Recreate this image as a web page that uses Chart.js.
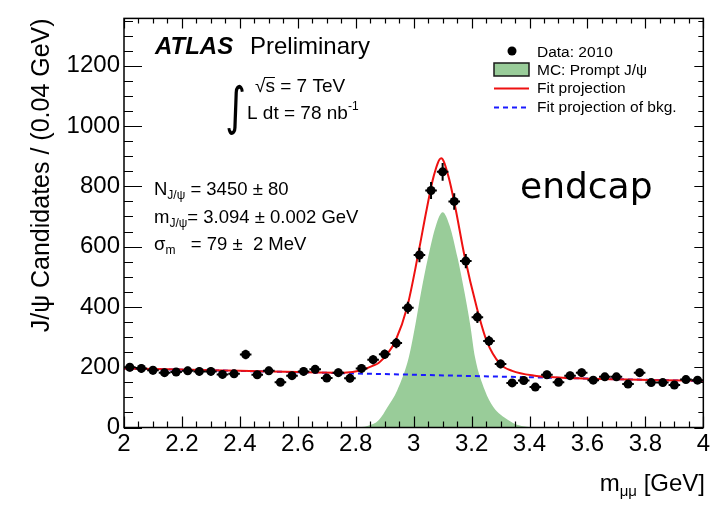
<!DOCTYPE html>
<html>
<head>
<meta charset="utf-8">
<title>J/psi candidates - endcap</title>
<script src="https://cdn.jsdelivr.net/npm/chart.js@4.4.1/dist/chart.umd.min.js"></script>
<style>
    html, body { margin: 0; padding: 0; background: #ffffff; }
    #wrap { width: 712px; height: 512px; position: relative; }
</style>
</head>
<body>
<div id="wrap"><canvas id="mass-chart"></canvas></div>
<script>
/* ===========================
   DATA
=========================== */

// dimuon mass bins (GeV), 0.04 GeV wide
const binCenters = [
    2.02, 2.06, 2.10, 2.14, 2.18, 2.22, 2.26, 2.30, 2.34, 2.38,
    2.42, 2.46, 2.50, 2.54, 2.58, 2.62, 2.66, 2.70, 2.74, 2.78,
    2.82, 2.86, 2.90, 2.94, 2.98, 3.02, 3.06, 3.10, 3.14, 3.18,
    3.22, 3.26, 3.30, 3.34, 3.38, 3.42, 3.46, 3.50, 3.54, 3.58,
    3.62, 3.66, 3.70, 3.74, 3.78, 3.82, 3.86, 3.90, 3.94, 3.98
];

const dataCounts = [
    200, 196, 190, 182, 184, 188, 186, 186, 176, 178,
    242, 175, 188, 150, 172, 186, 193, 164, 182, 163,
    196, 225, 243, 280, 397, 572, 786, 848, 750, 552,
    366, 287, 211, 148, 156, 134, 175, 150, 172, 182,
    157, 168, 168, 144, 182, 149, 149, 141, 159, 157
];

// signal + background fit
const fitX = [2.00, 2.20, 2.40, 2.60, 2.76, 2.82, 2.86, 2.88, 2.91, 2.937,
              2.977, 3.015, 3.045, 3.069, 3.095, 3.12, 3.145, 3.175, 3.218, 3.252,
              3.298, 3.34, 3.418, 3.50, 3.70, 3.85, 4.00];
const fitY = [196, 192, 188, 184, 182, 190, 205, 215, 245, 287,
              397, 572, 724, 833, 893, 833, 724, 572, 397, 287,
              211, 188, 172, 166, 160, 157, 155];

// background component of the fit
const bkgX = [2.00, 4.00];
const bkgY = [196, 154];

// prompt J/psi Monte Carlo
const mcX = [2.80, 2.84, 2.88, 2.91, 2.943, 2.983, 3.006, 3.026, 3.049, 3.077,
             3.10, 3.124, 3.152, 3.175, 3.195, 3.212, 3.246, 3.275, 3.326, 3.36,
             3.41];
const mcY = [0, 5, 25, 68, 123, 232, 342, 451, 561, 670,
             714, 670, 561, 451, 342, 232, 123, 68, 25, 8,
             0];

const xTickValues = [2, 2.2, 2.4, 2.6, 2.8, 3, 3.2, 3.4, 3.6, 3.8, 4];
const yTickValues = [0, 200, 400, 600, 800, 1000, 1200];

const X_MIN = 2;
const X_MAX = 4;
const Y_MAX = 1357;
const BIN_HALF = 0.02;

const FONT = "'Liberation Sans', Arial, Helvetica, sans-serif";
const RED = "#ee1111";
const BLUE = "#1a1aff";
const GREEN = "#99cc99";

const toPoints = (xs, ys) => xs.map((x, i) => ({ x: x, y: ys[i] }));

/* ===========================
   PLUGINS
=========================== */

// vertical (poisson) and horizontal (bin width) error bars
const errorBars = {
    id: "errorBars",
    beforeDatasetDraw(chart, args) {
        if (args.index !== 0) return;
        const { ctx, scales: { x, y } } = chart;
        ctx.save();
        ctx.strokeStyle = "#000";
        ctx.lineWidth = 2;
        binCenters.forEach((m, i) => {
            const n = dataCounts[i];
            const err = Math.sqrt(n);
            const px = x.getPixelForValue(m);
            const py = y.getPixelForValue(n);
            ctx.beginPath();
            ctx.moveTo(px, y.getPixelForValue(n - err));
            ctx.lineTo(px, y.getPixelForValue(n + err));
            ctx.moveTo(x.getPixelForValue(m - BIN_HALF), py);
            ctx.lineTo(x.getPixelForValue(m + BIN_HALF), py);
            ctx.stroke();
        });
        ctx.restore();
    }
};

// frame with inward major/minor ticks on all four sides
const frameTicks = {
    id: "frameTicks",
    afterDatasetsDraw(chart) {
        const { ctx, chartArea: a, scales: { x, y } } = chart;
        ctx.save();
        ctx.strokeStyle = "#000";
        ctx.lineWidth = 1.2;

        ctx.beginPath();
        for (let i = 0; i <= 40; i++) {
            const px = Math.round(x.getPixelForValue(X_MIN + i * 0.05)) + 0.5;
            const major = i % 4 === 0;
            ctx.moveTo(px, a.bottom);
            ctx.lineTo(px, a.bottom - (major ? 11 : 6));
            ctx.moveTo(px, a.top);
            ctx.lineTo(px, a.top + (major ? 10 : 5));
        }
        for (let v = 0; v <= Y_MAX; v += 50) {
            const py = Math.round(y.getPixelForValue(v)) + 0.5;
            const major = v % 200 === 0;
            ctx.moveTo(a.left, py);
            ctx.lineTo(a.left + (major ? 18 : 9), py);
            ctx.moveTo(a.right, py);
            ctx.lineTo(a.right - (major ? 9 : 5), py);
        }
        ctx.stroke();

        ctx.lineWidth = 1.5;
        ctx.strokeRect(a.left, a.top, a.right - a.left, a.bottom - a.top);
        ctx.restore();
    }
};

// draws a run of text pieces: [text, size, dy]
function drawRich(ctx, parts, x, y) {
    let cx = x;
    parts.forEach(([t, size, dy]) => {
        ctx.font = `${size}px ${FONT}`;
        ctx.fillText(t, cx, y + dy);
        cx += ctx.measureText(t).width;
    });
    return cx;
}

function richWidth(ctx, parts) {
    let w = 0;
    parts.forEach(([t, size]) => {
        ctx.font = `${size}px ${FONT}`;
        w += ctx.measureText(t).width;
    });
    return w;
}

const annotations = {
    id: "annotations",
    afterDraw(chart) {
        const { ctx } = chart;
        ctx.save();
        ctx.fillStyle = "#000";
        ctx.textBaseline = "alphabetic";
        ctx.textAlign = "left";

        // experiment label
        ctx.font = `italic bold 24px ${FONT}`;
        ctx.fillText("ATLAS", 155, 54);
        ctx.font = `24px ${FONT}`;
        ctx.fillText("Preliminary", 250, 54);

        // energy and luminosity
        ctx.save();
        ctx.font = "40px 'DejaVu Sans'";
        ctx.translate(225, 124);
        ctx.scale(1, 1.3);
        ctx.fillText("\u222B", 0, 0);
        ctx.restore();

        ctx.font = `19px ${FONT}`;
        ctx.fillText("\u221As = 7 TeV", 255, 92);
        const rw = ctx.measureText("\u221A").width;
        const sw = ctx.measureText("s").width;
        ctx.lineWidth = 1;
        ctx.beginPath();
        ctx.moveTo(255 + rw - 1, 77.5);
        ctx.lineTo(255 + rw + sw, 77.5);
        ctx.stroke();

        drawRich(ctx, [["L dt = 78 nb", 19, 0], ["-1", 12, -9]], 247, 119);

        // fit results
        drawRich(ctx, [["N", 18.5, 0], ["J/\u03C8", 12, 4], [" = 3450 \u00B1 80", 18.5, 0]], 154, 195);
        drawRich(ctx, [["m", 18.5, 0], ["J/\u03C8", 12, 4], ["= 3.094 \u00B1 0.002 GeV", 18.5, 0]], 154, 223);
        drawRich(ctx, [["\u03C3", 18.5, 0], ["m", 12, 4], ["   = 79 \u00B1  2 MeV", 18.5, 0]], 154, 250);

        // detector region
        ctx.font = "36px 'DejaVu Sans'";
        ctx.fillText("endcap", 520, 198);

        // legend
        ctx.font = `15.5px ${FONT}`;
        ctx.fillText("Data: 2010", 537, 57);
        ctx.fillText("MC: Prompt J/\u03C8", 537, 75);
        ctx.fillText("Fit projection", 537, 93);
        ctx.fillText("Fit projection of bkg.", 537, 112);

        ctx.beginPath();
        ctx.arc(512, 51, 4.5, 0, Math.PI * 2);
        ctx.fill();

        ctx.fillStyle = GREEN;
        ctx.fillRect(494, 63, 35, 13);
        ctx.strokeStyle = "#1a1a1a";
        ctx.lineWidth = 1.5;
        ctx.strokeRect(494, 63, 35, 13);

        ctx.strokeStyle = RED;
        ctx.lineWidth = 2;
        ctx.beginPath();
        ctx.moveTo(494, 88.5);
        ctx.lineTo(529, 88.5);
        ctx.stroke();

        ctx.strokeStyle = BLUE;
        ctx.setLineDash([5, 4]);
        ctx.beginPath();
        ctx.moveTo(494, 107.5);
        ctx.lineTo(529, 107.5);
        ctx.stroke();
        ctx.setLineDash([]);

        // x axis title with subscript
        ctx.fillStyle = "#000";
        const titleParts = [["m", 24, 0], ["\u03BC\u03BC", 15, 5], [" [GeV]", 24, 0]];
        drawRich(ctx, titleParts, 705 - richWidth(ctx, titleParts), 491);

        ctx.restore();
    }
};

/* ===========================
   CHART
=========================== */

Chart.defaults.font.family = FONT;
Chart.defaults.color = "#000";

const canvas = document.getElementById("mass-chart");

new Chart(canvas, {
    type: "scatter",

    data: {
        datasets: [
            {
                label: "Data: 2010",
                data: toPoints(binCenters, dataCounts),
                order: 0,
                pointRadius: 4.5,
                pointBackgroundColor: "#000",
                pointBorderWidth: 0
            },
            {
                label: "Fit projection",
                type: "line",
                data: toPoints(fitX, fitY),
                order: 1,
                borderColor: RED,
                borderWidth: 2,
                pointRadius: 0,
                cubicInterpolationMode: "monotone",
                fill: false
            },
            {
                label: "Fit projection of bkg.",
                type: "line",
                data: toPoints(bkgX, bkgY),
                order: 2,
                borderColor: BLUE,
                borderWidth: 2,
                borderDash: [5, 4],
                pointRadius: 0,
                fill: false
            },
            {
                label: "MC: Prompt J/\u03C8",
                type: "line",
                data: toPoints(mcX, mcY),
                order: 3,
                borderWidth: 0,
                borderColor: GREEN,
                backgroundColor: GREEN,
                pointRadius: 0,
                cubicInterpolationMode: "monotone",
                fill: "origin"
            }
        ]
    },

    options: {
        responsive: true,
        maintainAspectRatio: false,
        animation: false,

        layout: {
            padding: { top: 14, right: 6, left: 0, bottom: 0 }
        },

        plugins: {
            legend: { display: false },
            tooltip: { enabled: false }
        },

        scales: {
            x: {
                type: "linear",
                min: X_MIN,
                max: X_MAX,
                grid: { display: false, drawTicks: false },
                border: { display: false },
                ticks: {
                    font: { size: 24 },
                    padding: 2,
                    maxRotation: 0,
                    autoSkip: false,
                    callback: value => String(value)
                },
                afterBuildTicks(scale) {
                    scale.ticks = xTickValues.map(v => ({ value: v }));
                },
                afterFit(scale) {
                    scale.height = 84.5;
                }
            },

            y: {
                min: 0,
                max: Y_MAX,
                grid: { display: false, drawTicks: false },
                border: { display: false },
                ticks: {
                    font: { size: 24 },
                    padding: 4,
                    autoSkip: false,
                    callback: value => String(value)
                },
                afterBuildTicks(scale) {
                    scale.ticks = yTickValues.map(v => ({ value: v }));
                },
                afterFit(scale) {
                    scale.width = 124;
                },
                title: {
                    display: true,
                    text: "J/\u03C8 Candidates / (0.04 GeV)",
                    align: "end",
                    font: { size: 25 },
                    padding: { top: 27, bottom: 0 }
                }
            }
        }
    },

    plugins: [errorBars, frameTicks, annotations]
});
</script>
</body>
</html>
